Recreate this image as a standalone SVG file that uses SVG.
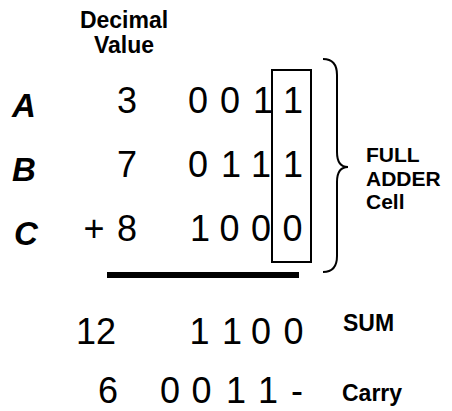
<svg xmlns="http://www.w3.org/2000/svg" width="452" height="411" viewBox="0 0 452 411">
<style>
.d{font-family:"Liberation Sans",Arial,sans-serif;font-size:36px;fill:#000;text-anchor:middle}
.b{font-family:"Liberation Sans",Arial,sans-serif;font-size:23px;font-weight:bold;fill:#000}
.f{font-family:"Liberation Sans",Arial,sans-serif;font-size:21px;font-weight:bold;fill:#000}
.v{font-family:"Liberation Sans",Arial,sans-serif;font-size:33px;font-weight:bold;font-style:italic;fill:#000}
.ln{fill:none;stroke:#000;stroke-width:2}
</style>
<rect width="452" height="411" fill="#fff"/>
<g id="header">
<text class="b" x="124" y="28" text-anchor="middle">Decimal</text>
<text class="b" x="124" y="53" text-anchor="middle">Value</text>
</g>
<g id="row-a">
<text class="v" x="12" y="117">A</text>
<text class="d" x="127" y="113">3</text>
<text class="d" x="198" y="113">0</text>
<text class="d" x="230" y="113">0</text>
<text class="d" x="263" y="113">1</text>
<text class="d" x="293" y="113">1</text>
</g>
<g id="row-b">
<text class="v" x="12" y="181">B</text>
<text class="d" x="127" y="177">7</text>
<text class="d" x="198" y="177">0</text>
<text class="d" x="231" y="177">1</text>
<text class="d" x="261" y="177">1</text>
<text class="d" x="293" y="177">1</text>
</g>
<g id="row-c">
<text class="v" x="14" y="245">C</text>
<text class="d" x="94" y="241">+</text>
<text class="d" x="127" y="241">8</text>
<text class="d" x="200" y="241">1</text>
<text class="d" x="229.5" y="241">0</text>
<text class="d" x="261" y="241">0</text>
<text class="d" x="292.5" y="241">0</text>
</g>
<g id="cell-box">
<rect class="ln" x="272" y="70" width="39" height="192"/>
</g>
<g id="brace">
<path class="ln" d="M323,59 Q337,59 337,75 L337,152 Q337,167 348,167 Q337,167 337,182 L337,256 Q337,272 323,272"/>
<text class="f" x="366" y="162">FULL</text>
<text class="f" x="366" y="185.5">ADDER</text>
<text class="f" x="366" y="209">Cell</text>
</g>
<g id="sum-line">
<line x1="107" y1="275" x2="299" y2="275" stroke="#000" stroke-width="6"/>
</g>
<g id="sum-row">
<text class="d" x="96" y="344">12</text>
<text class="d" x="199.5" y="344">1</text>
<text class="d" x="232" y="344">1</text>
<text class="d" x="261" y="344">0</text>
<text class="d" x="293.5" y="344">0</text>
<text class="b" x="343" y="331">SUM</text>
</g>
<g id="carry-row">
<text class="d" x="108" y="403">6</text>
<text class="d" x="170" y="403">0</text>
<text class="d" x="201.5" y="403">0</text>
<text class="d" x="236" y="403">1</text>
<text class="d" x="268" y="403">1</text>
<text class="d" x="297" y="403">-</text>
<text class="b" x="342" y="401">Carry</text>
</g>
</svg>
